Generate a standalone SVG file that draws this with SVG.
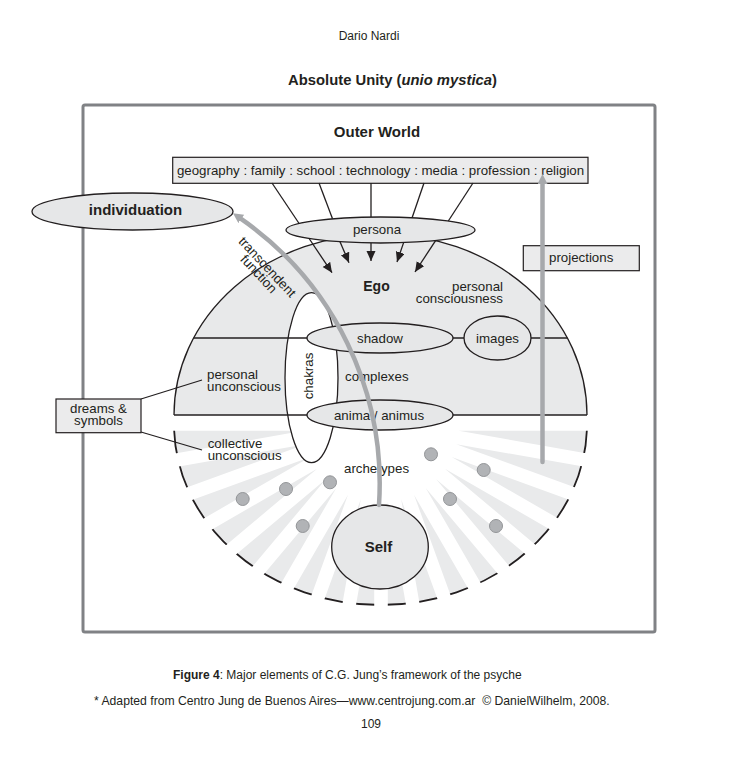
<svg xmlns="http://www.w3.org/2000/svg" width="747" height="758" viewBox="0 0 747 758">
<defs>
<style>
.t{font-family:"Liberation Sans",Arial,sans-serif;font-size:13.3px;fill:#231f20}
.b{font-weight:bold}
.m{text-anchor:middle}
.e{text-anchor:end}
.node{fill:#e6e7e8;stroke:#231f20;stroke-width:1.3}
.box{fill:#ebebec;stroke:#231f20;stroke-width:1.2}
.ln{fill:none;stroke:#231f20;stroke-width:1.3}
.ga{fill:none;stroke:#a7a9ac;stroke-width:4.5;stroke-linecap:round}
.dot{fill:#b1b3b6;stroke:#939598;stroke-width:1}
.ft{font-family:"Liberation Sans",Arial,sans-serif;font-size:12px;fill:#231f20}
</style>
<marker id="ah" markerUnits="userSpaceOnUse" markerWidth="11" markerHeight="10" refX="10" refY="4.5" orient="auto" viewBox="0 0 11 10"><path d="M0,0 L10,4.5 L0,9 z" fill="#231f20"/></marker>
<marker id="gh" markerUnits="userSpaceOnUse" markerWidth="11" markerHeight="11" refX="1" refY="5" orient="auto" viewBox="0 0 11 11"><path d="M0,0 L10,5 L0,10 z" fill="#a7a9ac"/></marker>
<clipPath id="rays">
<polygon points="458.7,430.8 640.9,430.8 638.1,462.4"/>
<polygon points="456.3,444.2 635.8,475.8 627.6,506.5"/>
<polygon points="451.7,457.0 622.9,519.3 609.5,548.1"/>
<polygon points="444.9,468.7 602.7,559.9 584.5,585.9"/>
<polygon points="436.2,479.2 575.7,596.3 553.3,618.7"/>
<polygon points="425.7,487.9 542.9,627.5 516.9,645.7"/>
<polygon points="414.0,494.7 505.1,652.5 476.3,665.9"/>
<polygon points="401.2,499.3 463.5,670.6 432.8,678.8"/>
<polygon points="387.8,501.7 419.4,681.1 387.8,683.9"/>
<polygon points="303.3,430.8 121.1,430.8 123.9,462.4"/>
<polygon points="305.7,444.2 126.2,475.8 134.4,506.5"/>
<polygon points="310.3,457.0 139.1,519.3 152.5,548.1"/>
<polygon points="317.1,468.7 159.3,559.9 177.5,585.9"/>
<polygon points="325.8,479.2 186.3,596.3 208.7,618.7"/>
<polygon points="336.3,487.9 219.1,627.5 245.1,645.7"/>
<polygon points="348.0,494.7 256.9,652.5 285.7,665.9"/>
<polygon points="360.8,499.3 298.5,670.6 329.2,678.8"/>
<polygon points="374.2,501.7 342.6,681.1 374.2,683.9"/>
</clipPath>
</defs>
<rect width="747" height="758" fill="#ffffff"/>

<g id="page-text">
<text class="ft m" x="369" y="40">Dario Nardi</text>
<text class="t b m" x="392.5" y="85" style="font-size:14.8px">Absolute Unity (<tspan font-style="italic">unio mystica</tspan>)</text>
<text class="ft" x="173" y="679"><tspan font-weight="bold">Figure 4</tspan>: Major elements of C.G. Jung’s framework of the psyche</text>
<text class="ft" x="94" y="705" style="font-size:12.2px">* Adapted from Centro Jung de Buenos Aires—www.centrojung.com.ar &#160;© DanielWilhelm, 2008.</text>
<text class="ft m" x="371" y="728">109</text>
</g>

<g id="outer-world">
<rect x="83" y="105" width="572" height="527" rx="2" fill="none" stroke="#808285" stroke-width="3"/>
<text class="t b m" x="377" y="137" style="font-size:15px">Outer World</text>
</g>

<g id="personal-consciousness">
<path d="M174,415 A206.5,181 0 0 1 587,415 Z" fill="#e8e9ea"/>
<path d="M174,415 A206.5,181 0 0 1 587,415" class="ln"/>
</g>

<g id="collective-unconscious">
<path d="M174,424 A206.5,181 0 0 0 587,424" fill="#e9eaeb" stroke="#231f20" stroke-width="1.8" clip-path="url(#rays)"/>
<text class="t" x="207.7" y="447.5">collective</text>
<text class="t" x="207.7" y="460">unconscious</text>
</g>

<g id="archetypes">
<circle class="dot" cx="242.7" cy="499" r="6.5"/>
<circle class="dot" cx="286" cy="489" r="6.5"/>
<circle class="dot" cx="330" cy="482.3" r="6.5"/>
<circle class="dot" cx="302.7" cy="526" r="6.5"/>
<circle class="dot" cx="431" cy="454.3" r="6.5"/>
<circle class="dot" cx="483.7" cy="470" r="6.5"/>
<circle class="dot" cx="450" cy="499" r="6.5"/>
<circle class="dot" cx="496" cy="526" r="6.5"/>
<text class="t" x="344" y="473">archetypes</text>
</g>

<g id="chakras">
<ellipse cx="311.5" cy="377.7" rx="26.5" ry="85" fill="#ffffff" stroke="#231f20" stroke-width="1.3"/>
<text class="t m" transform="translate(313,376) rotate(-90)">chakras</text>
</g>

<g id="layer-lines">
<line class="ln" x1="193.6" y1="338" x2="567.4" y2="338"/>
<line class="ln" x1="174" y1="415" x2="587" y2="415"/>
</g>

<g id="ego">
<text class="t b m" x="376.5" y="290.5" style="font-size:14px">Ego</text>
<text class="t e" x="503" y="290.5">personal</text>
<text class="t e" x="503" y="302.5">consciousness</text>
</g>

<g id="personal-unconscious">
<text class="t" x="207" y="378.5">personal</text>
<text class="t" x="207" y="391">unconscious</text>
<text class="t" x="345" y="381">complexes</text>
</g>

<g id="shadow">
<ellipse class="node" cx="380" cy="338" rx="73" ry="15"/>
<text class="t m" x="380" y="343">shadow</text>
</g>

<g id="images">
<ellipse class="node" cx="497.5" cy="338" rx="33.5" ry="22"/>
<text class="t m" x="497.5" y="342.5">images</text>
</g>

<g id="anima-animus">
<ellipse class="node" cx="380" cy="415" rx="73" ry="15"/>
<text class="t m" x="379" y="419.5">anima / animus</text>
</g>

<g id="self">
<ellipse class="node" cx="380" cy="547" rx="48.3" ry="42"/>
<text class="t b m" x="378.5" y="552" style="font-size:15px">Self</text>
</g>

<g id="persona">
<ellipse class="node" cx="380.5" cy="230" rx="94.5" ry="13"/>
<text class="t m" x="377" y="233.5">persona</text>
</g>

<g id="influences">
<rect class="box" x="172.7" y="157.3" width="415.3" height="26"/>
<text class="t m" x="380.5" y="175">geography : family : school : technology : media : profession : religion</text>
</g>

<g id="individuation">
<ellipse class="node" cx="132.5" cy="211.5" rx="100.5" ry="18.5"/>
<text class="t b m" x="135.5" y="215" style="font-size:15px">individuation</text>
</g>

<g id="projections">
<rect class="box" x="523.3" y="245.7" width="116" height="25"/>
<text class="t" x="549" y="262">projections</text>
</g>

<g id="dreams-symbols">
<rect class="box" x="56" y="399" width="85" height="33.7"/>
<text class="t m" x="98.5" y="413.3">dreams &amp;</text>
<text class="t m" x="98.5" y="425.3">symbols</text>
</g>

<g id="connectors">
<path class="ln" d="M272,183 L299.1,223.5"/>
<path class="ln" d="M309.1,238.5 L332,272.7" marker-end="url(#ah)"/>
<path class="ln" d="M319,183 L332.5,218.8"/>
<path class="ln" d="M340,241.7 L349,262.7" marker-end="url(#ah)"/>
<path class="ln" d="M371,183 L371,217.1"/>
<path class="ln" d="M371,242.9 L371,261" marker-end="url(#ah)"/>
<path class="ln" d="M424,183 L412.1,217.8"/>
<path class="ln" d="M403.6,242.6 L397,262" marker-end="url(#ah)"/>
<path class="ln" d="M473,183 L448.3,221"/>
<path class="ln" d="M435.6,240.6 L415,272" marker-end="url(#ah)"/>
<path class="ln" d="M141,399 L202,380"/>
<path class="ln" d="M141,432 L202,450"/>
<path class="ga" d="M379,505 A323,323 0 0 0 240.4,218.4" marker-end="url(#gh)"/>
<path class="ga" d="M542.5,462 L542.5,183" marker-end="url(#gh)"/>
<text class="t m" transform="translate(264,270) rotate(47)">transcendent</text>
<text class="t m" transform="translate(255.5,277) rotate(47)">function</text>
</g>
</svg>
